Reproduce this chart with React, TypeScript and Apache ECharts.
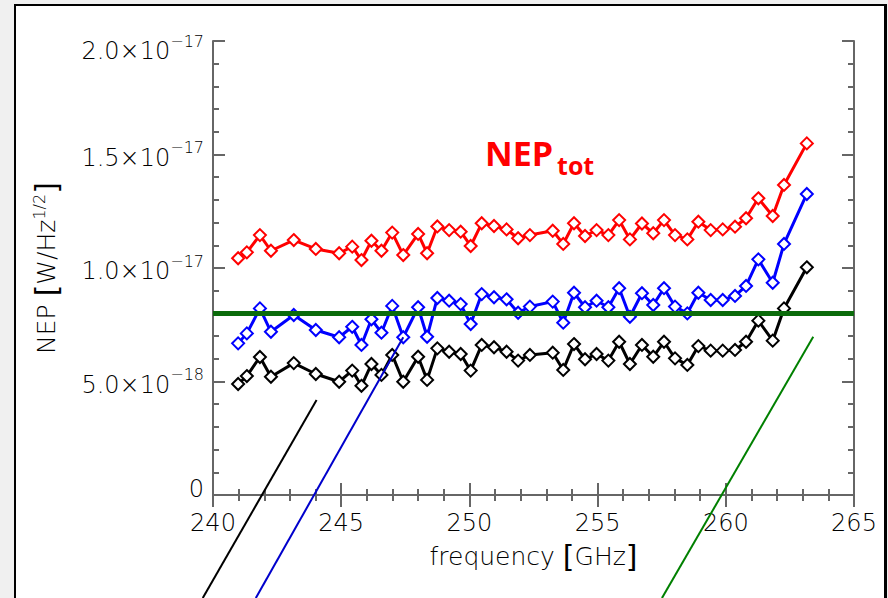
import React, { useEffect, useRef } from 'react';
import * as echarts from 'echarts';

// frequency of each measured channel [GHz]
const freqGHz = [
  240.98, 241.32, 241.83, 242.26, 243.15, 244.01, 244.92, 245.43, 245.79, 246.18,
  246.57, 246.99, 247.42, 248.0, 248.35, 248.75, 249.21, 249.66, 250.05, 250.48,
  250.96, 251.45, 251.9, 252.36, 253.25, 253.66, 254.08, 254.51, 254.96, 255.42,
  255.84, 256.26, 256.73, 257.17, 257.59, 258.02, 258.5, 258.93, 259.41, 259.88,
  260.36, 260.79, 261.27, 261.83, 262.27, 263.16,
];
// NEP values in units of 1e-17 W/Hz^1/2
const nepTot = [
  1.043, 1.069, 1.145, 1.076, 1.123, 1.084, 1.065, 1.094, 1.035, 1.12,
  1.076, 1.156, 1.057, 1.15, 1.065, 1.183, 1.167, 1.16, 1.097, 1.197,
  1.185, 1.17, 1.131, 1.145, 1.164, 1.106, 1.197, 1.141, 1.167, 1.145,
  1.211, 1.126, 1.196, 1.153, 1.211, 1.145, 1.126, 1.204, 1.167, 1.17,
  1.182, 1.219, 1.307, 1.229, 1.366, 1.549,
];
const nepBlue = [
  0.668, 0.712, 0.822, 0.719, 0.793, 0.727, 0.695, 0.741, 0.661, 0.774,
  0.715, 0.833, 0.695, 0.827, 0.697, 0.868, 0.856, 0.841, 0.753, 0.885,
  0.871, 0.862, 0.803, 0.83, 0.852, 0.759, 0.891, 0.827, 0.856, 0.827,
  0.911, 0.785, 0.889, 0.837, 0.911, 0.83, 0.8, 0.891, 0.859, 0.859,
  0.877, 0.921, 1.038, 0.935, 1.106, 1.326,
];
const nepBlack = [
  0.489, 0.524, 0.608, 0.521, 0.581, 0.533, 0.499, 0.548, 0.481, 0.577,
  0.529, 0.617, 0.499, 0.609, 0.507, 0.646, 0.631, 0.621, 0.548, 0.661,
  0.651, 0.631, 0.592, 0.617, 0.627, 0.551, 0.665, 0.598, 0.621, 0.592,
  0.675, 0.577, 0.661, 0.609, 0.675, 0.602, 0.573, 0.656, 0.636, 0.636,
  0.639, 0.675, 0.768, 0.68, 0.822, 1.003,
];
const nepLimit = 0.8;

// annotation pointer lines [freq, NEP] (top end, bottom end)
const pointerBlack = [[244.04, 0.419], [239.6, -0.454]];
const pointerBlue = [[247.42, 0.695], [241.67, -0.454]];
const pointerGreen = [[263.41, 0.697], [257.51, -0.454]];
const pointerColors = ['#000000', '#0000cc', '#008000'];

const yTickMantissa = ['0', '5.0', '1.0', '1.5', '2.0'];
const yTickExponent = ['', '\u221218', '\u221217', '\u221217', '\u221217'];

const FONT = 'DejaVu Sans';
const FW = 200;
const AX = '#666';
const LBL = '#000';

export default function App() {
  const ref = useRef<HTMLDivElement>(null);
  useEffect(() => {
    if (!ref.current) return;
    const chart = echarts.init(ref.current, undefined, { renderer: 'svg' });
    const axisCommon = {
      type: 'value' as const,
      axisLine: { show: true, lineStyle: { color: AX, width: 2 } },
      axisTick: { show: true, inside: true, length: 12, lineStyle: { color: AX, width: 2 } },
      minorTick: { show: true, splitNumber: 5, length: 6, lineStyle: { color: AX, width: 2 } },
      splitLine: { show: false },
    };
    const dataSeries = (vals: number[], color: string) => ({
      type: 'line',
      data: freqGHz.map((f, i) => [f, vals[i]]),
      symbol: 'emptyDiamond',
      symbolSize: 12,
      lineStyle: { color, width: 3 },
      itemStyle: { color, borderColor: color, borderWidth: 3 },
      silent: true,
    });
    const txt = { fontFamily: FONT, fontWeight: FW, color: LBL };
    const sup = { ...txt, fontSize: 16 };
    const bracket = { fontFamily: FONT, fontSize: 30, fontWeight: 'normal', color: LBL };
    chart.setOption({
      animation: false,
      title: {
        text: '{a|NEP}{b|tot}',
        left: 485,
        top: 128,
        padding: 0,
        textStyle: {
          rich: {
            a: { fontFamily: 'Open Sans', fontWeight: 'bold', fontSize: 34, color: '#ff0000' },
            b: { fontFamily: 'Open Sans', fontWeight: 'bold', fontSize: 25, color: '#ff0000', padding: [24, 0, 0, 4] },
          },
        },
      },
      grid: { left: 213, top: 41, width: 641, height: 454, containLabel: false },
      xAxis: [
        {
          ...axisCommon,
          position: 'bottom',
          min: 240,
          max: 265,
          interval: 5,
          axisLabel: { show: true, margin: 16, fontSize: 24, ...txt },
          name: '{t|frequency }{b|[}{t|GHz}{b|]}',
          nameLocation: 'middle',
          nameGap: 46,
          nameTextStyle: {
            rich: {
              t: { ...txt, fontSize: 25 },
              b: bracket,
            },
          },
        },
        {
          ...axisCommon,
          position: 'top',
          min: 240,
          max: 265,
          interval: 5,
          axisLabel: { show: false },
        },
      ],
      yAxis: [
        {
          ...axisCommon,
          position: 'left',
          min: 0,
          max: 2,
          interval: 0.5,
          axisLabel: {
            show: true,
            margin: 9,
            formatter: (v: number) => {
              const i = Math.round(v / 0.5);
              if (i === 0) return '{z|0}';
              const k = i === 4 ? 'T' : '';
              return `{a${k}|${yTickMantissa[i]}\u00d710}{e${k}|${yTickExponent[i]}}`;
            },
            rich: {
              z: { ...txt, fontSize: 24, padding: [0, 0, 12, 0] },
              a: { ...txt, fontSize: 24, padding: [6, 0, 0, 0] },
              e: { ...sup, padding: [0, 0, 14, 0] },
              aT: { ...txt, fontSize: 24, padding: [20, 0, 0, 0] },
              eT: { ...sup, padding: [14, 0, 14, 0] },
            },
          },
          name: '{t|NEP }{b|[}{t|W/Hz}{s|1/2}{b|]}',
          nameLocation: 'middle',
          nameRotate: 90,
          nameGap: 152,
          nameTextStyle: {
            rich: {
              t: { ...txt, fontSize: 25 },
              s: { ...sup, padding: [0, 0, 14, 0] },
              b: bracket,
            },
          },
        },
        {
          ...axisCommon,
          position: 'right',
          min: 0,
          max: 2,
          interval: 0.5,
          axisLabel: { show: false },
        },
      ],
      series: [
        dataSeries(nepTot, '#ff0000'),
        dataSeries(nepBlue, '#0000ff'),
        dataSeries(nepBlack, '#000000'),
        {
          type: 'line',
          data: [[240, nepLimit], [265, nepLimit]],
          symbol: 'none',
          lineStyle: { color: '#0b6b0b', width: 5 },
          silent: true,
          z: 6,
        },
      ],
    });
    // annotation pointers, positioned through the chart's own scales
    const pointers = [pointerBlack, pointerBlue, pointerGreen];
    const lines = pointers.map((pts, k) => {
      const a = chart.convertToPixel({ gridIndex: 0 }, pts[0]) as number[];
      const b = chart.convertToPixel({ gridIndex: 0 }, pts[1]) as number[];
      return {
        type: 'line',
        silent: true,
        z: 50,
        shape: { x1: a[0], y1: a[1], x2: b[0], y2: b[1] },
        style: { stroke: pointerColors[k], lineWidth: 2 },
      };
    });
    chart.setOption({ graphic: lines });
    return () => chart.dispose();
  }, []);
  return (
    <div style={{ position: 'fixed', left: 0, top: 0, width: 888, height: 598, background: '#f0f0f0', overflow: 'hidden' }}>
      <div
        style={{
          position: 'absolute', left: 14, top: 4, width: 873, height: 700, boxSizing: 'border-box',
          background: '#fff', borderLeft: '2px solid #000', borderTop: '2px solid #000', borderRight: '3px solid #000',
        }}
      />
      <div ref={ref} style={{ position: 'absolute', left: 0, top: 0, width: 888, height: 598 }} />
    </div>
  );
}
